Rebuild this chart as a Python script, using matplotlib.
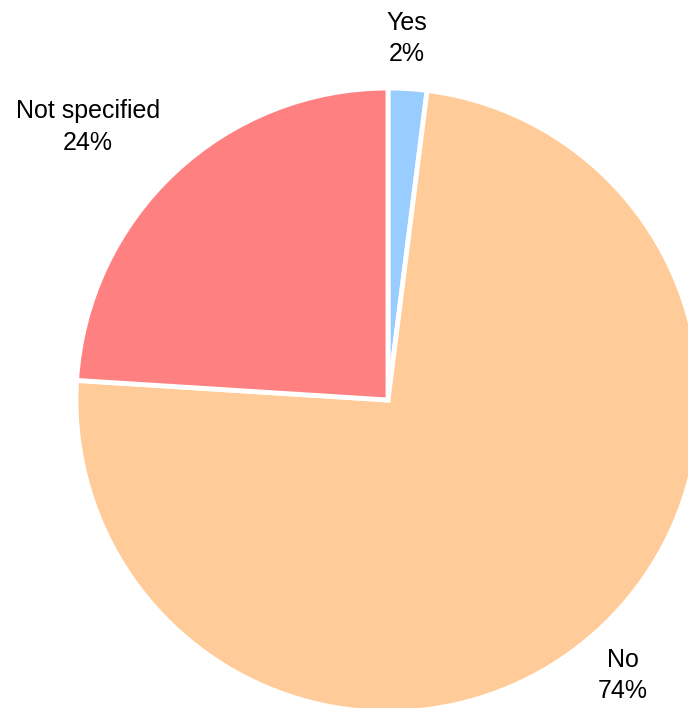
import numpy as np
import matplotlib.pyplot as plt

plt.rcParams['font.family'] = ['Liberation Sans', 'DejaVu Sans']

categories = ["Yes", "No", "Not specified"]
values = [2, 74, 24]
couleurs = ["#99CCFF", "#FFCC99", "#FF8080"]

fig = plt.figure(figsize=(6.88, 7.08), dpi=100)
ax = fig.add_axes([0, 0, 1, 1])

labels = [f"{c}\n{v}%" for c, v in zip(categories, values)]
patchs, textes = ax.pie(values, colors=couleurs, startangle=90, counterclock=False,
                        labels=labels, labeldistance=1.2,
                        wedgeprops=dict(edgecolor='white', linewidth=3.5),
                        textprops=dict(fontsize=18, color='black'))

# pie of radius 1 = 312 px, centre at pixel (388, 400)
r_px = 312.0
cx, cy = 388.0, 400.0
ax.set_xlim(-cx / r_px, (688 - cx) / r_px)
ax.set_ylim(-(708 - cy) / r_px, cy / r_px)
ax.set_aspect('equal')
ax.axis('off')

# push labels to where they sit in the original
distances = [1.16, 1.16, 1.30]
decalage = [0.6, 0.8, 4.5]
for p, t, d, off in zip(patchs, textes, distances, decalage):
    ang = np.deg2rad((p.theta1 + p.theta2) / 2 + off)
    t.set_position((d * np.cos(ang), d * np.sin(ang)))
    t.set_ha('center')
    t.set_va('center')
    t.set_linespacing(1.38)

fig.savefig("out.png", dpi=100)
